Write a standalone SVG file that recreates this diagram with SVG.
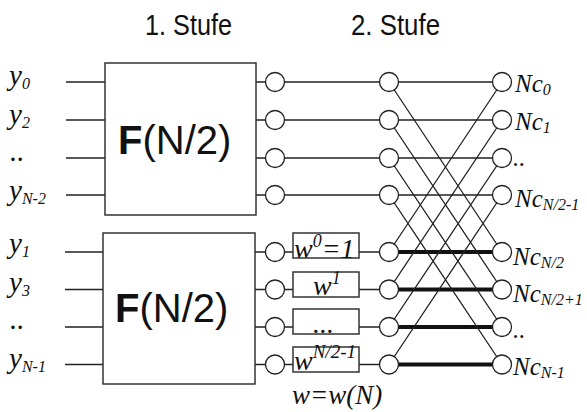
<svg xmlns="http://www.w3.org/2000/svg" width="587" height="412" viewBox="0 0 587 412">
<style>
.ln{stroke:#222;stroke-width:1.3;fill:none}
.thick{stroke:#111;stroke-width:4;fill:none}
.box{stroke:#333;stroke-width:1.5;fill:#fff}
.c{stroke:#222;stroke-width:1.3;fill:#fff}
.m{font-family:"Liberation Serif","Times New Roman",serif;font-style:italic;fill:#111}
.s{font-family:"Liberation Sans",Arial,sans-serif;fill:#111}
</style>
<rect width="587" height="412" fill="#fff"/>
<g id="connectors">
<path class="ln" d="M66,82H105M66,120H105M66,158H105M66,195H105M65,252H103M65,289.5H103M65,327H103M65,364.5H103"/>
<path class="ln" d="M256,82H502M256,120H502M256,158H502M256,195H502"/>
<path class="ln" d="M255,252H293M359,252H389M255,289.5H293M359,289.5H389M255,327H293M359,327H389M255,364.5H293M359,364.5H389"/>
<path class="thick" d="M389,252H502M389,289.5H502M389,327H502M389,364.5H502"/>
<path class="ln" d="M389,82L502,252M389,120L502,289.5M389,158L502,327M389,195L502,364.5M389,252L502,82M389,289.5L502,120M389,327L502,158M389,364.5L502,195"/>
</g>
<g id="titles">
<text class="s" x="145" y="35" font-size="29" textLength="87" lengthAdjust="spacingAndGlyphs">1. Stufe</text>
<text class="s" x="351" y="35" font-size="29" textLength="89" lengthAdjust="spacingAndGlyphs">2. Stufe</text>
</g>
<g id="fft-top">
<rect class="box" x="105" y="63" width="151" height="152"/>
<text class="s" x="118" y="154" font-size="40"><tspan font-weight="bold">F</tspan>(N/2)</text>
</g>
<g id="fft-bottom">
<rect class="box" x="103" y="233" width="152" height="151"/>
<text class="s" x="115" y="322" font-size="40"><tspan font-weight="bold">F</tspan>(N/2)</text>
</g>
<g id="inputs" class="m" font-size="29">
<text x="9" y="85">y<tspan font-size="16" dy="4">0</tspan></text>
<text x="9" y="124">y<tspan font-size="16" dy="4">2</tspan></text>
<text x="10" y="161">..</text>
<text x="9" y="200">y<tspan font-size="16" dy="4">N-2</tspan></text>
<text x="9" y="253">y<tspan font-size="16" dy="4">1</tspan></text>
<text x="9" y="292">y<tspan font-size="16" dy="4">3</tspan></text>
<text x="10" y="329">..</text>
<text x="9" y="368">y<tspan font-size="16" dy="4">N-1</tspan></text>
</g>
<g id="stage1-nodes">
<circle class="c" cx="275" cy="82" r="9.5"/>
<circle class="c" cx="275" cy="120" r="9.5"/>
<circle class="c" cx="275" cy="158" r="9.5"/>
<circle class="c" cx="275" cy="195" r="9.5"/>
<circle class="c" cx="275" cy="252" r="9.5"/>
<circle class="c" cx="275" cy="289.5" r="9.5"/>
<circle class="c" cx="275" cy="327" r="9.5"/>
<circle class="c" cx="275" cy="364.5" r="9.5"/>
</g>
<g id="twiddles">
<rect class="box" x="293" y="233" width="66" height="25"/>
<rect class="box" x="293" y="272" width="66" height="25"/>
<rect class="box" x="293" y="309" width="66" height="25"/>
<rect class="box" x="293" y="347" width="66" height="25"/>
<text class="m" x="294" y="258" font-size="28">w<tspan font-size="18" dy="-11">0</tspan><tspan dy="11">=1</tspan></text>
<text class="m" x="313" y="295" font-size="28">w<tspan font-size="18" dy="-11">1</tspan></text>
<text class="m" x="313" y="333" font-size="28">...</text>
<text class="m" x="294" y="370" font-size="28">w<tspan font-size="19" dy="-12">N/2-1</tspan></text>
</g>
<g id="stage2-nodes">
<circle class="c" cx="389" cy="82" r="9.5"/>
<circle class="c" cx="389" cy="120" r="9.5"/>
<circle class="c" cx="389" cy="158" r="9.5"/>
<circle class="c" cx="389" cy="195" r="9.5"/>
<circle class="c" cx="389" cy="252" r="9.5"/>
<circle class="c" cx="389" cy="289.5" r="9.5"/>
<circle class="c" cx="389" cy="327" r="9.5"/>
<circle class="c" cx="389" cy="364.5" r="9.5"/>
</g>
<g id="outputs">
<circle class="c" cx="502" cy="82" r="9.5"/>
<circle class="c" cx="502" cy="120" r="9.5"/>
<circle class="c" cx="502" cy="158" r="9.5"/>
<circle class="c" cx="502" cy="195" r="9.5"/>
<circle class="c" cx="502" cy="252" r="9.5"/>
<circle class="c" cx="502" cy="289.5" r="9.5"/>
<circle class="c" cx="502" cy="327" r="9.5"/>
<circle class="c" cx="502" cy="364.5" r="9.5"/>
<g class="m" font-size="25">
<text x="515" y="92">Nc<tspan font-size="16" dy="3">0</tspan></text>
<text x="515" y="130">Nc<tspan font-size="16" dy="3">1</tspan></text>
<text x="513" y="166">..</text>
<text x="515" y="207">Nc<tspan font-size="16" dy="3">N/2-1</tspan></text>
<text x="513" y="265">Nc<tspan font-size="16" dy="3">N/2</tspan></text>
<text x="513" y="302">Nc<tspan font-size="16" dy="3">N/2+1</tspan></text>
<text x="513" y="338">..</text>
<text x="513" y="375">Nc<tspan font-size="16" dy="3">N-1</tspan></text>
</g>
</g>
<g id="note">
<text class="m" x="292" y="404" font-size="27">w=w(N)</text>
</g>
</svg>
